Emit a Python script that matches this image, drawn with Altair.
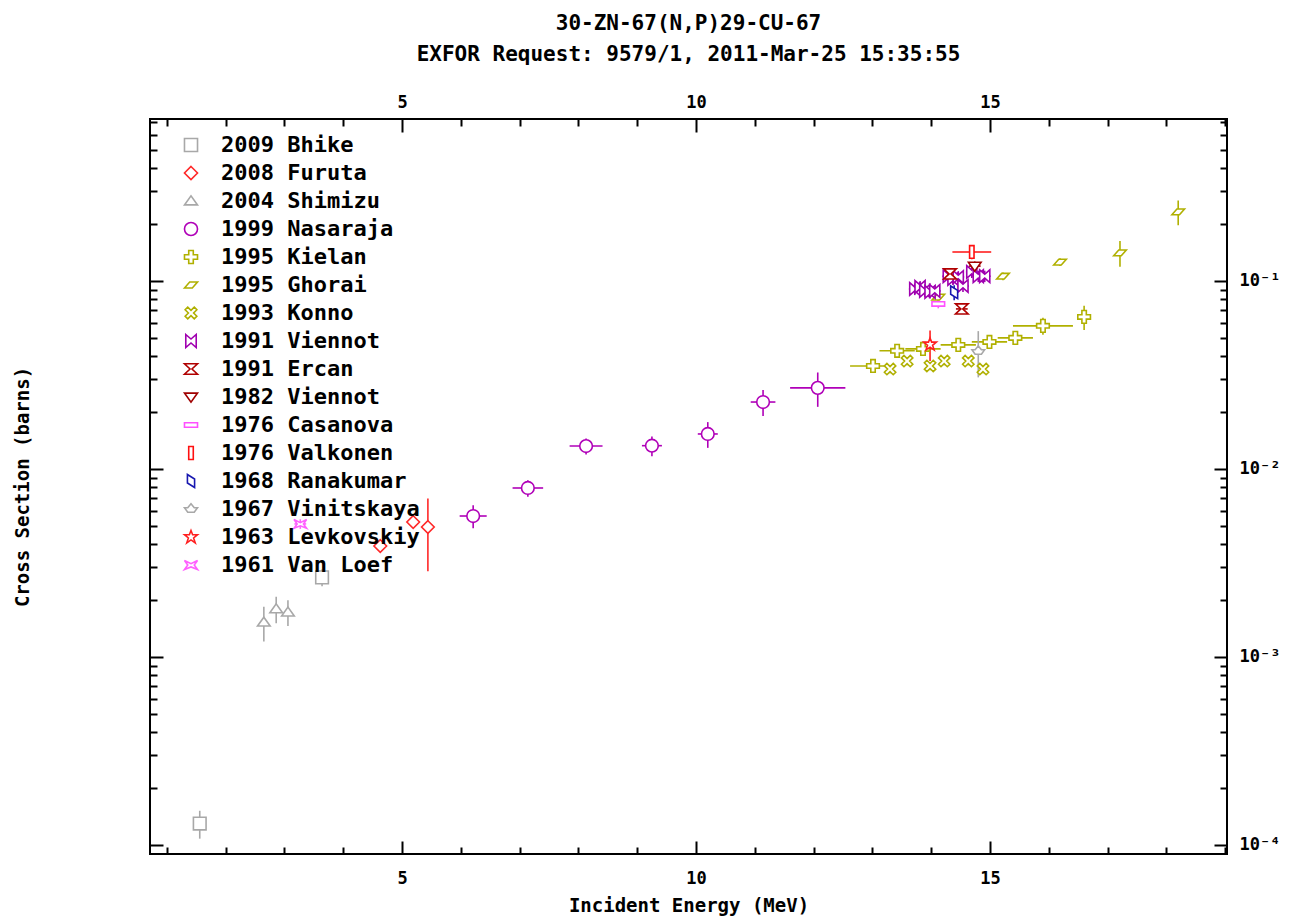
import altair as alt
import pandas as pd

# ---------------- data ----------------
series = ["2009 Bhike", "2008 Furuta", "2004 Shimizu", "1999 Nasaraja", "1995 Kielan",
          "1995 Ghorai", "1993 Konno", "1991 Viennot", "1991 Ercan", "1982 Viennot",
          "1976 Casanova", "1976 Valkonen", "1968 Ranakumar", "1967 Vinitskaya",
          "1963 Levkovskiy", "1961 Van Loef"]

colors = ["#a8a8a8", "#ff2828", "#a8a8a8", "#b000b8", "#b0b000",
          "#b0b000", "#b0b000", "#a000b0", "#b00000", "#a00000",
          "#ff50ff", "#ff1010", "#1818b0", "#a8a8a8",
          "#ff2020", "#ff60ff"]

shapes = [
    "M-1,-1H1V1H-1Z",
    "M0,-1L1,0L0,1L-1,0Z",
    "M-1,0.6L0,-0.8L1,0.6Z",
    "M-1,0A1,1 0 1,0 1,0A1,1 0 1,0 -1,0Z",
    "M-0.35,-1H0.35V-0.35H1V0.35H0.35V1H-0.35V0.35H-1V-0.35H-0.35Z",
    "M-1,0.45L-0.2,-0.45H1L0.2,0.45Z",
    "M0.5,-0.9L0.9,-0.5L0.4,0L0.9,0.5L0.5,0.9L0,0.4L-0.5,0.9L-0.9,0.5L-0.4,0L-0.9,-0.5L-0.5,-0.9L0,-0.4Z",
    "M-0.8,-1L0,-0.3L0.8,-1V1L0,0.3L-0.8,1Z",
    "M-1,-0.8H1L0.15,0L1,0.8H-1L-0.15,0Z",
    "M-1,-0.6H1L0,0.8Z",
    "M-1,-0.35H1V0.35H-1Z",
    "M-0.35,-1H0.35V1H-0.35Z",
    "M-0.55,-1L0.55,-0.3V1L-0.55,0.3Z",
    "M0,-0.8L0.5,-0.2H1L0.5,0.5H-0.5L-1,-0.2H-0.5Z",
    "M0,-1L0.25,-0.35H1L0.4,0.15L0.65,0.9L0,0.45L-0.65,0.9L-0.4,0.15L-1,-0.35H-0.25Z",
    "M-1,-0.7L0,-0.2L1,-0.7L0.5,0L1,0.7L0,0.3L-1,0.7L-0.5,0Z",
]

# energy (MeV), cross section (b), energy error, cross-section error
bhike_E = [1.56, 3.64]
bhike_xs = [1.30e-4, 2.65e-3]
bhike_dE = [0.0, 0.0]
bhike_dxs = [2.2e-5, 2.7e-4]

furuta_E = [4.63, 5.19, 5.44]
furuta_xs = [3.89e-3, 5.22e-3, 4.91e-3]
furuta_dE = [0.0, 0.0, 0.0]
furuta_dxs = [2.0e-4, 2.6e-4, 2.05e-3]

shimizu_E = [2.65, 2.86, 3.06]
shimizu_xs = [1.53e-3, 1.80e-3, 1.73e-3]
shimizu_dE = [0.0, 0.0, 0.0]
shimizu_dxs = [3.2e-4, 2.9e-4, 2.7e-4]

nasaraja_E = [6.21, 7.14, 8.13, 9.25, 10.20, 11.14, 12.07]
nasaraja_xs = [5.62e-3, 7.92e-3, 1.324e-2, 1.33e-2, 1.535e-2, 2.27e-2, 2.70e-2]
nasaraja_dE = [0.23, 0.26, 0.28, 0.17, 0.17, 0.21, 0.47]
nasaraja_dxs = [7.9e-4, 8.0e-4, 1.3e-3, 1.6e-3, 2.4e-3, 3.6e-3, 5.6e-3]

kielan_E = [13.01, 13.42, 13.86, 14.46, 14.99, 15.43, 15.90, 16.60]
kielan_xs = [0.0353, 0.0425, 0.0435, 0.0457, 0.0474, 0.0498, 0.0577, 0.0644]
kielan_dE = [0.39, 0.30, 0.30, 0.30, 0.30, 0.30, 0.51, 0.0]
kielan_dxs = [0.0028, 0.0034, 0.0035, 0.0037, 0.0038, 0.0040, 0.0060, 0.0095]

ghorai_E = [14.12, 15.22, 16.19, 17.21, 18.20]
ghorai_xs = [0.082, 0.106, 0.126, 0.141, 0.233]
ghorai_dE = [0.0, 0.0, 0.0, 0.0, 0.0]
ghorai_dxs = [0.004, 0.005, 0.006, 0.022, 0.035]

konno_E = [13.30, 13.59, 13.98, 14.22, 14.63, 14.88]
konno_xs = [0.0340, 0.0375, 0.0353, 0.0375, 0.0375, 0.0340]
konno_dE = [0.0, 0.0, 0.0, 0.0, 0.0, 0.0]
konno_dxs = [0.0017, 0.0019, 0.0018, 0.0019, 0.0019, 0.0017]

viennot91_E = [13.72, 13.81, 13.89, 13.98, 14.06, 14.29, 14.37, 14.46, 14.54, 14.69, 14.80, 14.91]
viennot91_xs = [0.0906, 0.0930, 0.0885, 0.0874, 0.0885, 0.106, 0.1025, 0.105, 0.094, 0.1116, 0.106, 0.106]
viennot91_dE = [0.1] * 12
viennot91_dxs = [0.0065, 0.0065, 0.0062, 0.0061, 0.0062, 0.0074, 0.0072, 0.0074, 0.0066, 0.0078, 0.0074, 0.0074]

ercan_E = [14.32, 14.52]
ercan_xs = [0.109, 0.071]
ercan_dE = [0.1, 0.1]
ercan_dxs = [0.006, 0.004]

viennot82_E = [14.74]
viennot82_xs = [0.120]
viennot82_dE = [0.1]
viennot82_dxs = [0.007]

casanova_E = [14.12]
casanova_xs = [0.0755]
casanova_dE = [0.1]
casanova_dxs = [0.004]

valkonen_E = [14.69]
valkonen_xs = [0.1426]
valkonen_dE = [0.33]
valkonen_dxs = [0.012]

ranakumar_E = [14.39]
ranakumar_xs = [0.087]
ranakumar_dE = [0.0]
ranakumar_dxs = [0.008]

vinitskaya_E = [14.80]
vinitskaya_xs = [0.0424]
vinitskaya_dE = [0.0]
vinitskaya_dxs = [0.0117]

levkovskiy_E = [13.98]
levkovskiy_xs = [0.046]
levkovskiy_dE = [0.0]
levkovskiy_dxs = [0.0085]

vanloef_E = [3.27]
vanloef_xs = [5.1e-3]
vanloef_dE = [0.1]
vanloef_dxs = [3.0e-4]

x_major = [5, 10, 15]
x_minor = [1, 2, 3, 4, 6, 7, 8, 9, 11, 12, 13, 14, 16, 17, 18, 19]
y_major = [1e-4, 1e-3, 1e-2, 1e-1]
y_minor = [2e-4, 3e-4, 4e-4, 5e-4, 6e-4, 7e-4, 8e-4, 9e-4,
           2e-3, 3e-3, 4e-3, 5e-3, 6e-3, 7e-3, 8e-3, 9e-3,
           2e-2, 3e-2, 4e-2, 5e-2, 6e-2, 7e-2, 8e-2, 9e-2,
           0.2, 0.3, 0.4, 0.5, 0.6, 0.7]

groups = [
    (bhike_E, bhike_xs, bhike_dE, bhike_dxs),
    (furuta_E, furuta_xs, furuta_dE, furuta_dxs),
    (shimizu_E, shimizu_xs, shimizu_dE, shimizu_dxs),
    (nasaraja_E, nasaraja_xs, nasaraja_dE, nasaraja_dxs),
    (kielan_E, kielan_xs, kielan_dE, kielan_dxs),
    (ghorai_E, ghorai_xs, ghorai_dE, ghorai_dxs),
    (konno_E, konno_xs, konno_dE, konno_dxs),
    (viennot91_E, viennot91_xs, viennot91_dE, viennot91_dxs),
    (ercan_E, ercan_xs, ercan_dE, ercan_dxs),
    (viennot82_E, viennot82_xs, viennot82_dE, viennot82_dxs),
    (casanova_E, casanova_xs, casanova_dE, casanova_dxs),
    (valkonen_E, valkonen_xs, valkonen_dE, valkonen_dxs),
    (ranakumar_E, ranakumar_xs, ranakumar_dE, ranakumar_dxs),
    (vinitskaya_E, vinitskaya_xs, vinitskaya_dE, vinitskaya_dxs),
    (levkovskiy_E, levkovskiy_xs, levkovskiy_dE, levkovskiy_dxs),
    (vanloef_E, vanloef_xs, vanloef_dE, vanloef_dxs),
]

rows = []
for name, (E, XS, DE, DXS) in zip(series, groups):
    for e, y, de, dy in zip(E, XS, DE, DXS):
        rows.append(dict(series=name, E=e, xs=y, dE=de, dxs=dy,
                         Elo=e - de, Ehi=e + de, ylo=y - dy, yhi=y + dy))
df = pd.DataFrame(rows)

# ---------------- chart ----------------
FONT = "DejaVu Sans Mono"
x_scale = alt.Scale(domain=[0.714, 19.03], nice=False, zero=False)
y_scale = alt.Scale(type="log", domain=[8.95e-5, 0.727], nice=False)
color_scale = alt.Scale(domain=series, range=colors)
shape_scale = alt.Scale(domain=series, range=shapes)

MAJ, MIN = 13, 7
sup_expr = "'10' + ['\u2070','\u207b\u00b9','\u207b\u00b2','\u207b\u00b3','\u207b\u2074'][round(-log(datum.value)/LN10)]"

def axis(orient, values, size, labels=False, title=None, **kw):
    return alt.Axis(orient=orient, values=values, tickSize=size, offset=-size,
                    domain=False, grid=False, labels=labels, title=title,
                    tickColor="black", tickWidth=2, **kw)

ax_bottom_major = axis("bottom", x_major, MAJ, labels=True, title="Incident Energy (MeV)",
                       labelPadding=16, titlePadding=10)
ax_top_major = axis("top", x_major, MAJ, labels=True, labelPadding=8)
ax_bottom_minor = axis("bottom", x_minor, MIN)
ax_top_minor = axis("top", x_minor, MIN)
ax_left_major = axis("left", y_major, MAJ, title="Cross Section (barns)", titlePadding=117)
ax_right_major = axis("right", y_major, MAJ, labels=True, labelExpr=sup_expr, labelPadding=12)
ax_left_minor = axis("left", y_minor, MIN)
ax_right_minor = axis("right", y_minor, MIN)

xerr = alt.Chart(df[df.dE > 0]).mark_rule(strokeWidth=1.6).encode(
    x=alt.X("Elo:Q", scale=x_scale, axis=ax_bottom_major),
    x2="Ehi:Q",
    y=alt.Y("xs:Q", scale=y_scale, axis=ax_left_major),
    color=alt.Color("series:N", scale=color_scale, title=None),
)

yerr = alt.Chart(df[df.dxs > 0]).mark_rule(strokeWidth=1.6).encode(
    x=alt.X("E:Q", scale=x_scale, axis=ax_top_major),
    y=alt.Y("ylo:Q", scale=y_scale, axis=ax_right_major),
    y2="yhi:Q",
    color=alt.Color("series:N", scale=color_scale, title=None),
)

points = alt.Chart(df).mark_point(filled=False, fill="white", fillOpacity=1, size=160,
                                  strokeWidth=1.6, opacity=1).encode(
    x=alt.X("E:Q", scale=x_scale, axis=ax_bottom_minor),
    y=alt.Y("xs:Q", scale=y_scale, axis=ax_left_minor),
    color=alt.Color("series:N", scale=color_scale, title=None),
    shape=alt.Shape("series:N", scale=shape_scale, title=None),
)

ghost = alt.Chart(df).mark_point(opacity=0).encode(
    x=alt.X("E:Q", scale=x_scale, axis=ax_top_minor),
    y=alt.Y("xs:Q", scale=y_scale, axis=ax_right_minor),
)

chart = (
    alt.layer(xerr, yerr, points, ghost)
    .resolve_axis(x="independent", y="independent")
    .properties(
        width=1077, height=735,
        title=alt.TitleParams(
            text="30-ZN-67(N,P)29-CU-67",
            subtitle="EXFOR Request: 9579/1, 2011-Mar-25 15:35:55",
            font=FONT, fontSize=21, fontWeight="bold", color="black",
            subtitleFont=FONT, subtitleFontSize=21, subtitleFontWeight="bold",
            subtitleColor="black", subtitlePadding=10, offset=28, anchor="middle",
        ),
    )
    .configure_view(stroke="black", strokeWidth=2)
    .configure_axis(labelFont=FONT, labelFontSize=17, labelFontWeight="bold", labelColor="black",
                    titleFont=FONT, titleFontSize=19, titleFontWeight="bold", titleColor="black")
    .configure_legend(orient="none", legendX=30, legendY=15, padding=0,
                      labelFont=FONT, labelFontSize=22, labelFontWeight="bold", labelColor="black",
                      labelOffset=19, rowPadding=6, symbolSize=170, symbolStrokeWidth=1.6,
                      symbolFillColor="white", labelLimit=400)
)

chart.save("out.html", embed_options={"renderer": "svg", "actions": False})
